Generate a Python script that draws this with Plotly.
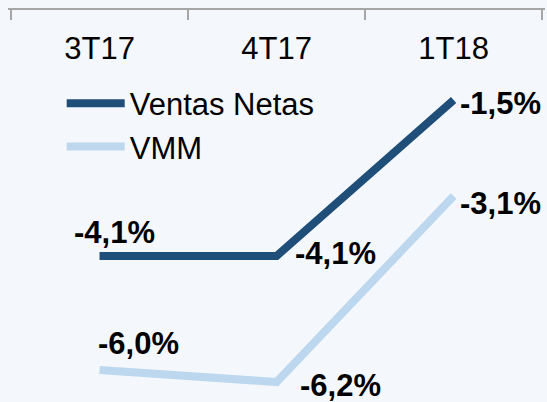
import plotly.graph_objects as go

categories = ["3T17", "4T17", "1T18"]
ventas_netas = [-4.1, -4.1, -1.5]
vmm = [-6.0, -6.2, -3.1]
series_names = ["Ventas Netas", "VMM"]

colors = ["#1F4E79", "#BDD7EE"]
# label offsets in pixels (dx, dy up)
label_offsets = [
    [(15, 24), (59, 3), (47, -3)],
    [(39, 27), (64, -3), (47, -7)],
]

FONT = "Liberation Sans, Arial, sans-serif"
BG = "#F4F8FC"

fig = go.Figure()
for name, vals, col in zip(series_names, [ventas_netas, vmm], colors):
    fig.add_trace(go.Scatter(x=categories, y=vals, mode="lines", name=name,
                             line=dict(color=col, width=8)))

annotations = []
for vals, offs in zip([ventas_netas, vmm], label_offsets):
    for c, v, (dx, dy) in zip(categories, vals, offs):
        annotations.append(dict(
            x=c, y=v, xref="x", yref="y",
            text=("%.1f%%" % v).replace(".", ","),
            showarrow=False, xanchor="center", yanchor="middle",
            xshift=dx, yshift=dy, borderpad=0,
            font=dict(family=FONT, size=31, color="#000000", weight="bold"),
        ))

fig.update_layout(
    width=547, height=402,
    margin=dict(l=8, r=2, t=10, b=0),
    paper_bgcolor=BG, plot_bgcolor=BG,
    showlegend=True,
    legend=dict(x=0.1, y=0.83, xanchor="left", yanchor="top",
                bgcolor="rgba(0,0,0,0)", itemwidth=58,
                font=dict(family=FONT, size=31, color="#000000"),
                tracegroupgap=0),
    annotations=annotations,
    xaxis=dict(side="top", type="category", range=[-0.517, 2.516],
               showline=True, linecolor="#A6A6A6", linewidth=1.5,
               ticks="inside", tickson="boundaries", ticklen=10,
               tickcolor="#A6A6A6", tickwidth=1.5,
               ticklabelposition="inside", ticklabelstandoff=21,
               tickfont=dict(family=FONT, size=31, color="#000000"),
               showgrid=False, zeroline=False, fixedrange=True),
    yaxis=dict(range=[-6.533, 0], visible=False, showgrid=False,
               zeroline=False, fixedrange=True),
)

fig.write_html(
    "out.html",
    config={"displayModeBar": False},
    post_script="document.body.style.margin='0';document.body.style.overflow='hidden';document.body.style.background='" + BG + "';",
)
